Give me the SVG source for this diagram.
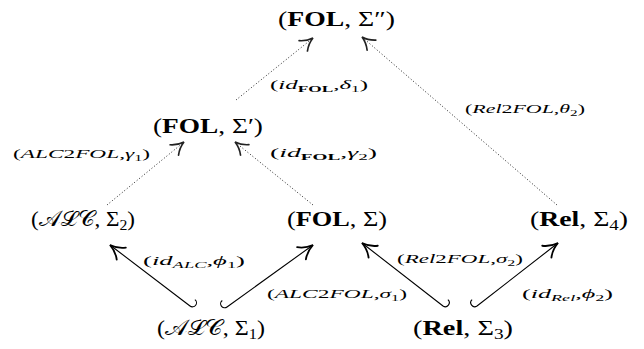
<svg xmlns="http://www.w3.org/2000/svg" width="644" height="349" viewBox="0 0 644 349">
  <style>
    .node { font-family: "Liberation Serif", "DejaVu Serif", serif; font-size: 22px; fill: #000; }
    .b { font-weight: bold; }
    .sub { font-size: 15px; }
    .lab { font-family: "Liberation Serif", "DejaVu Serif", serif; font-size: 13px; fill: #000; }
    .i { font-style: italic; }
    .ls { font-size: 9px; }
    .lsb { font-size: 9px; font-weight: bold; }
    .solid { fill: none; stroke: #000; stroke-width: 1.1; }
    .dot { fill: none; stroke: #222; stroke-width: 1; stroke-dasharray: 1 2.2; }
  </style>
  <defs>
    <!-- curved "to" style arrow tips -->
    <marker id="to" markerUnits="userSpaceOnUse" markerWidth="20" markerHeight="20" viewBox="-10 -6 12 12" refX="0" refY="0" orient="auto" overflow="visible">
      <path d="M-8.5,-4.5 C-6,-2 -2,-0.4 0,0 C-2,0.4 -6,2 -8.5,4.5" fill="none" stroke="#000" stroke-width="1.1" stroke-linecap="round"/>
    </marker>
    <marker id="tod" markerUnits="userSpaceOnUse" markerWidth="20" markerHeight="20" viewBox="-10 -6 12 12" refX="0" refY="0" orient="auto" overflow="visible">
      <path d="M-7.5,-4 C-5,-1.7 -2,-0.4 0,0 C-2,0.4 -5,1.7 -7.5,4" fill="none" stroke="#222" stroke-width="1" stroke-linecap="round"/>
    </marker>
  </defs>

  <!-- signature nodes -->
  <g id="n0"><text class="node" x="278" y="26" textLength="117" lengthAdjust="spacingAndGlyphs">(<tspan class="b">FOL</tspan>, Σ″)</text></g>
  <g id="n1"><text class="node" x="153" y="133" textLength="110" lengthAdjust="spacingAndGlyphs">(<tspan class="b">FOL</tspan>, Σ′)</text></g>
  <g id="n2"><text class="node" x="31" y="226" textLength="104" lengthAdjust="spacingAndGlyphs">(𝒜ℒ𝒞, Σ<tspan class="sub" dy="4">2</tspan><tspan dy="-4">)</tspan></text></g>
  <g id="n3"><text class="node" x="287" y="226" textLength="100" lengthAdjust="spacingAndGlyphs">(<tspan class="b">FOL</tspan>, Σ)</text></g>
  <g id="n4"><text class="node" x="530" y="226" textLength="98" lengthAdjust="spacingAndGlyphs">(<tspan class="b">Rel</tspan>, Σ<tspan class="sub" dy="4">4</tspan><tspan dy="-4">)</tspan></text></g>
  <g id="n5"><text class="node" x="157" y="335" textLength="108" lengthAdjust="spacingAndGlyphs">(𝒜ℒ𝒞, Σ<tspan class="sub" dy="4">1</tspan><tspan dy="-4">)</tspan></text></g>
  <g id="n6"><text class="node" x="413" y="335" textLength="100" lengthAdjust="spacingAndGlyphs">(<tspan class="b">Rel</tspan>, Σ<tspan class="sub" dy="4">3</tspan><tspan dy="-4">)</tspan></text></g>

  <!-- morphisms -->
  <g id="connectors">
    <!-- dotted comorphisms -->
    <line class="dot" x1="107" y1="205" x2="184" y2="142" marker-end="url(#tod)"/>
    <line class="dot" x1="313" y1="205" x2="235" y2="142" marker-end="url(#tod)"/>
    <line class="dot" x1="236" y1="100" x2="313" y2="38" marker-end="url(#tod)"/>
    <line class="dot" x1="557" y1="205" x2="362" y2="37" marker-end="url(#tod)"/>
    <!-- hooked inclusions: hook at the tail, tip at the head -->
    <path class="solid" d="M194.9,299.6 A4,4 0 0 1 190,306 L110,245" marker-end="url(#to)"/>
    <path class="solid" d="M222.3,300.5 A4,4 0 0 0 227,307 L313,245" marker-end="url(#to)"/>
    <path class="solid" d="M447.9,299.7 A4,4 0 0 1 443,306 L362,243" marker-end="url(#to)"/>
    <path class="solid" d="M472.1,299.7 A4,4 0 0 0 477,306 L558,243" marker-end="url(#to)"/>
  </g>

  <!-- morphism labels -->
  <g id="labels">
    <text class="lab" x="270" y="89" textLength="98" lengthAdjust="spacingAndGlyphs">(<tspan class="i">id</tspan><tspan class="lsb" dy="3">FOL</tspan><tspan dy="-3">,</tspan><tspan class="i">δ</tspan><tspan class="ls" dy="3">1</tspan><tspan dy="-3">)</tspan></text>
    <text class="lab" x="465" y="113" textLength="120" lengthAdjust="spacingAndGlyphs">(<tspan class="i">Rel</tspan>2<tspan class="i">FOL</tspan>,<tspan class="i">θ</tspan><tspan class="ls" dy="3">2</tspan><tspan dy="-3">)</tspan></text>
    <text class="lab" x="13" y="158" textLength="137" lengthAdjust="spacingAndGlyphs">(<tspan class="i">ALC</tspan>2<tspan class="i">FOL</tspan>,<tspan class="i">γ</tspan><tspan class="ls" dy="3">1</tspan><tspan dy="-3">)</tspan></text>
    <text class="lab" x="270" y="157" textLength="107" lengthAdjust="spacingAndGlyphs">(<tspan class="i">id</tspan><tspan class="lsb" dy="3">FOL</tspan><tspan dy="-3">,</tspan><tspan class="i">γ</tspan><tspan class="ls" dy="3">2</tspan><tspan dy="-3">)</tspan></text>
    <text class="lab" x="143" y="265" textLength="102" lengthAdjust="spacingAndGlyphs">(<tspan class="i">id</tspan><tspan class="ls i" dy="3">ALC</tspan><tspan dy="-3">,</tspan><tspan class="i">ϕ</tspan><tspan class="ls" dy="3">1</tspan><tspan dy="-3">)</tspan></text>
    <text class="lab" x="267" y="298" textLength="140" lengthAdjust="spacingAndGlyphs">(<tspan class="i">ALC</tspan>2<tspan class="i">FOL</tspan>,<tspan class="i">σ</tspan><tspan class="ls" dy="3">1</tspan><tspan dy="-3">)</tspan></text>
    <text class="lab" x="397" y="263" textLength="126" lengthAdjust="spacingAndGlyphs">(<tspan class="i">Rel</tspan>2<tspan class="i">FOL</tspan>,<tspan class="i">σ</tspan><tspan class="ls" dy="3">2</tspan><tspan dy="-3">)</tspan></text>
    <text class="lab" x="522" y="298" textLength="91" lengthAdjust="spacingAndGlyphs">(<tspan class="i">id</tspan><tspan class="ls i" dy="3">Rel</tspan><tspan dy="-3">,</tspan><tspan class="i">ϕ</tspan><tspan class="ls" dy="3">2</tspan><tspan dy="-3">)</tspan></text>
  </g>
</svg>
